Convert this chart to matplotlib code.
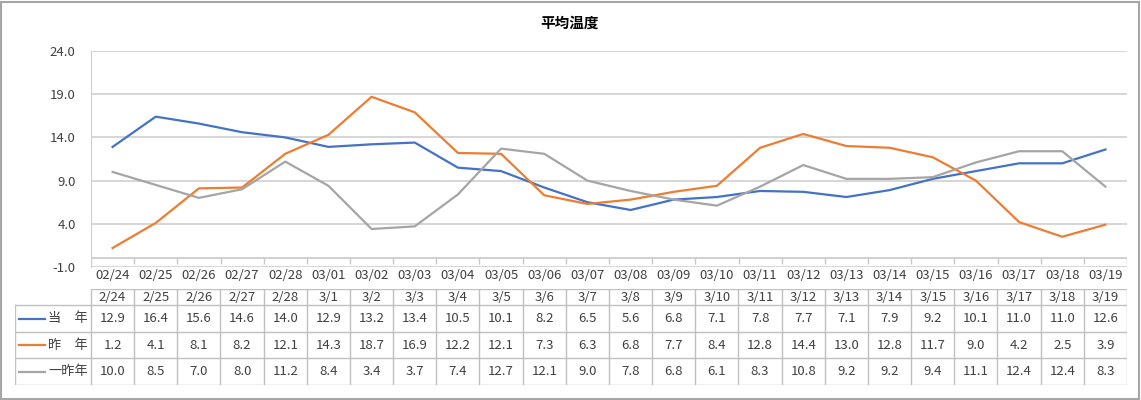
import matplotlib
matplotlib.use('Agg')
import matplotlib.pyplot as plt
import numpy as np
from matplotlib.patches import Rectangle

plt.rcParams['font.family'] = ['Noto Sans CJK JP', 'DejaVu Sans']

# data
axis_labels = ['02/24', '02/25', '02/26', '02/27', '02/28', '03/01', '03/02', '03/03',
               '03/04', '03/05', '03/06', '03/07', '03/08', '03/09', '03/10', '03/11',
               '03/12', '03/13', '03/14', '03/15', '03/16', '03/17', '03/18', '03/19']
table_labels = ['2/24', '2/25', '2/26', '2/27', '2/28', '3/1', '3/2', '3/3', '3/4', '3/5',
                '3/6', '3/7', '3/8', '3/9', '3/10', '3/11', '3/12', '3/13', '3/14', '3/15',
                '3/16', '3/17', '3/18', '3/19']
this_year = [12.9, 16.4, 15.6, 14.6, 14.0, 12.9, 13.2, 13.4, 10.5, 10.1, 8.2, 6.5,
             5.6, 6.8, 7.1, 7.8, 7.7, 7.1, 7.9, 9.2, 10.1, 11.0, 11.0, 12.6]
last_year = [1.2, 4.1, 8.1, 8.2, 12.1, 14.3, 18.7, 16.9, 12.2, 12.1, 7.3, 6.3,
             6.8, 7.7, 8.4, 12.8, 14.4, 13.0, 12.8, 11.7, 9.0, 4.2, 2.5, 3.9]
two_years = [10.0, 8.5, 7.0, 8.0, 11.2, 8.4, 3.4, 3.7, 7.4, 12.7, 12.1, 9.0,
             7.8, 6.8, 6.1, 8.3, 10.8, 9.2, 9.2, 9.4, 11.1, 12.4, 12.4, 8.3]
series_names = ['当\u3000年', '昨\u3000年', '一昨年']
colors = ['#4472C4', '#ED7D31', '#A5A5A5']
series = [this_year, last_year, two_years]

W, H = 1141, 400
fig = plt.figure(figsize=(W / 100, H / 100), dpi=100)

# outer frame
fig.patches.append(Rectangle((1 / W, 1 / H), 1 - 3 / W, 1 - 3 / H, transform=fig.transFigure,
                             fill=False, edgecolor='#A6A6A6', linewidth=1.5))

left, right, top, bottom = 91, 1127, 51, 267
ax = fig.add_axes([left / W, 1 - bottom / H, (right - left) / W, (bottom - top) / H])
n = len(axis_labels)
x = np.arange(n)
ax.set_xlim(-0.5, n - 0.5)
ax.set_ylim(-1, 24)
ax.set_yticks(np.arange(-1, 25, 5))
ax.set_yticklabels([f'{v:.1f}' for v in np.arange(-1, 25, 5)], fontsize=9.5, color='#404040')
ax.grid(axis='y', color='#D0D0D0', linewidth=1.2)
ax.set_axisbelow(True)
for s in ['top', 'right', 'bottom']:
    ax.spines[s].set_visible(False)
ax.spines['left'].set_color('#D0D0D0')
ax.tick_params(axis='y', length=0, pad=11)
ax.set_xticks(x)
ax.set_xticklabels(axis_labels, fontsize=9.5, color='#404040')
ax.tick_params(axis='x', length=0, pad=1.5)

# category axis at zero with tick marks between categories
ax.axhline(0, color='#C8C8C8', linewidth=1.2, zorder=1)
ax.vlines(np.arange(-0.5, n), -0.6, 0, color='#C8C8C8', linewidth=1.0, zorder=1)

for vals, c in zip(series, colors):
    ax.plot(x, vals, color=c, linewidth=1.6, zorder=3)

fig.text(570 / W, 1 - 23 / H, '平均温度', ha='center', va='center', fontsize=10.5,
         fontweight='bold')

# data table
t_left, t_top, t_bot = 15, 289, 385
rows = [305, 332, 358, 385]
axt = fig.add_axes([t_left / W, 1 - t_bot / H, (right - t_left) / W, (t_bot - t_top) / H])
x0 = -0.5 - (left - t_left) / ((right - left) / n)
axt.set_xlim(x0, n - 0.5)
axt.set_ylim(t_bot, t_top)
axt.axis('off')
lc = '#C0C0C0'
axt.plot([-0.5, n - 0.5], [t_top, t_top], color=lc, lw=1)
for r in rows:
    axt.plot([x0, n - 0.5], [r, r], color=lc, lw=1)
for b in np.arange(-0.5, n):
    axt.plot([b, b], [t_top, t_bot], color=lc, lw=1)
axt.plot([x0, x0], [rows[0], t_bot], color=lc, lw=1)

for i, lab in enumerate(table_labels):
    axt.text(i, (t_top + rows[0]) / 2, lab, ha='center', va='center', fontsize=9.5,
             color='#404040')
unit = (right - left) / n
for k, (vals, name, c) in enumerate(zip(series, series_names, colors)):
    yc = (rows[k] + rows[k + 1]) / 2
    for i, v in enumerate(vals):
        axt.text(i, yc, f'{v:.1f}', ha='center', va='center', fontsize=9.5, color='#404040')
    axt.plot([x0 + 4 / unit, x0 + 30 / unit], [yc, yc], color=c, lw=1.6)
    axt.text(-0.5 - 3 / unit, yc, name, ha='right', va='center', fontsize=9.5, color='#404040')

fig.savefig('out.png', dpi=100)
